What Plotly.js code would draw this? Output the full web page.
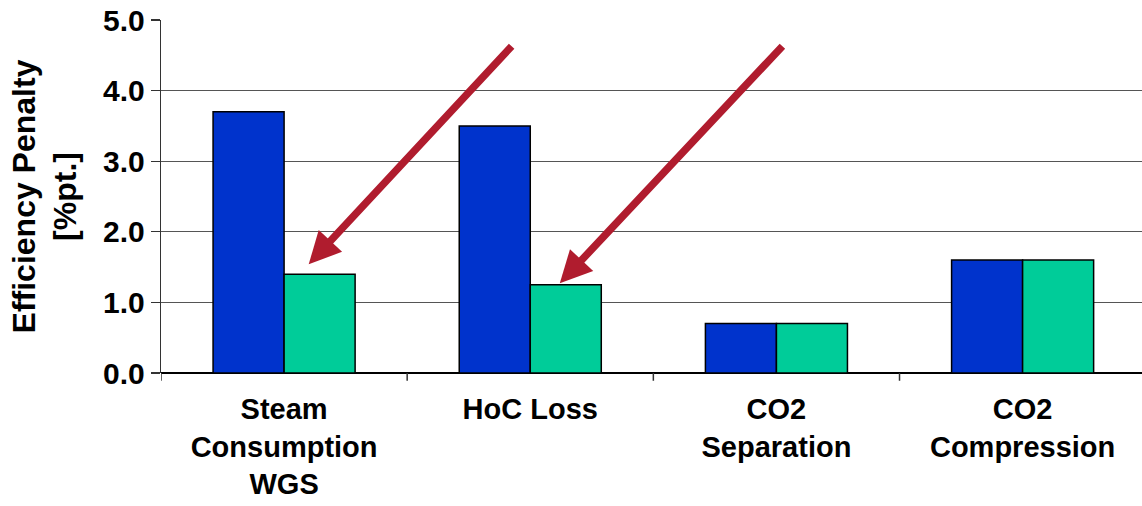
<!DOCTYPE html>
<html>
<head>
<meta charset="utf-8">
<script src="https://cdn.plot.ly/plotly-3.0.1.min.js"></script>
<style>html,body{margin:0;padding:0;background:#fff}#chart{width:1142px;height:506px}</style>
</head>
<body>
<div id="chart"></div>
<script>
const categories = ["Steam<br>Consumption<br>WGS", "HoC Loss", "CO2<br>Separation", "CO2<br>Compression"];
const seriesA = [3.7, 3.5, 0.7, 1.6];
const seriesB = [1.4, 1.25, 0.7, 1.6];
const yTicks = [0, 1, 2, 3, 4, 5];
const yTickLabels = ["0.0", "1.0", "2.0", "3.0", "4.0", "5.0"];
// arrow annotations: tip (x,y) and tail (ax,ay) in data units (category index)
const arrowTipX = [0.10, 1.12];
const arrowTipY = [1.54, 1.27];
const arrowTailX = [0.93, 2.03];
const arrowTailY = [4.65, 4.65];

const fam = "Liberation Sans, Arial, sans-serif";
const xIdx = categories.map((c, i) => i);

const traces = [
  {type: "bar", x: xIdx, y: seriesA, marker: {color: "#0033CC", line: {color: "#000", width: 1.5}}, hoverinfo: "none"},
  {type: "bar", x: xIdx, y: seriesB, marker: {color: "#00CC99", line: {color: "#000", width: 1.5}}, hoverinfo: "none"}
];

const annotations = arrowTipX.map((x, i) => ({
  x: x, y: arrowTipY[i], xref: "x", yref: "y",
  ax: arrowTailX[i], ay: arrowTailY[i], axref: "x", ayref: "y",
  showarrow: true, arrowhead: 2, arrowsize: 0.85, arrowwidth: 7.5,
  arrowcolor: "#B01C2E", text: ""
}));

const layout = {
  width: 1142, height: 506,
  margin: {l: 161, r: 0, t: 20, b: 133, pad: 0},
  paper_bgcolor: "#fff", plot_bgcolor: "#fff",
  showlegend: false,
  barmode: "group", bargap: 0.423, bargroupgap: 0,
  font: {family: fam, size: 29, color: "#000"},
  xaxis: {
    type: "linear", range: [-0.5, 3.485],
    tickvals: xIdx, ticktext: categories,
    showgrid: false, zeroline: false, showline: false,
    ticks: "outside", ticklen: 10, tickcolor: "rgba(0,0,0,0)",
    tickfont: {family: fam, size: 29, color: "#000", weight: "bold"}
  },
  yaxis: {
    range: [0, 5], tickvals: yTicks, ticktext: yTickLabels,
    showgrid: true, gridcolor: "#555", gridwidth: 1,
    zeroline: true, zerolinecolor: "#000", zerolinewidth: 2.5,
    showline: true, linecolor: "#333", linewidth: 1.2,
    ticks: "outside", ticklen: 9, tickcolor: "#333", tickwidth: 1.2,
    tickfont: {family: fam, size: 30, color: "#000", weight: "bold"},
    title: {text: "Efficiency Penalty<br>[%pt.]", standoff: 16,
            font: {family: fam, size: 32, color: "#000", weight: "bold"}}
  },
  shapes: [-0.5, 0.5, 1.5, 2.5].map(v => ({
    type: "line", xref: "x", yref: "paper", x0: v, x1: v, y0: 0, y1: -0.022,
    line: {color: "#333", width: 1.5}
  })),
  annotations: annotations
};

Plotly.newPlot("chart", traces, layout, {staticPlot: true});
</script>
</body>
</html>
